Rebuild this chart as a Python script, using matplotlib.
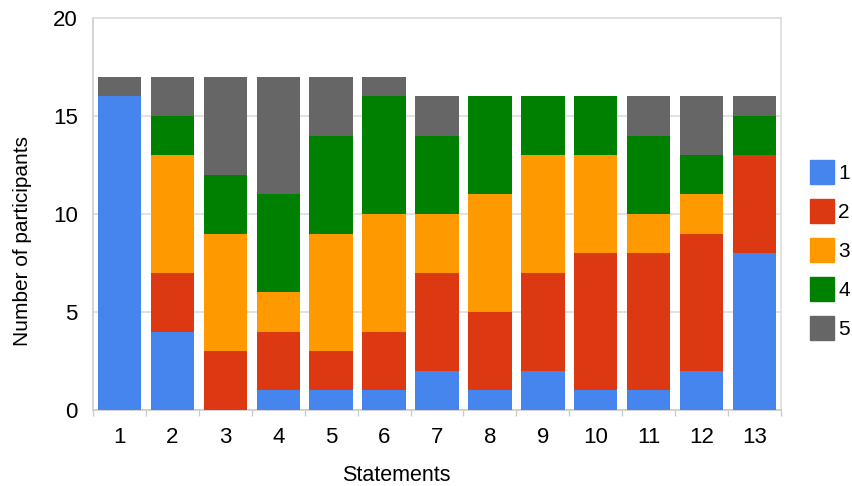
import matplotlib
matplotlib.use("Agg")
import matplotlib.pyplot as plt
from matplotlib.patches import Patch
import numpy as np

plt.rcParams['font.family'] = ['Liberation Sans', 'DejaVu Sans']

statements = [str(i) for i in range(1, 14)]
ratings = ['1', '2', '3', '4', '5']
r1 = [16, 4, 0, 1, 1, 1, 2, 1, 2, 1, 1, 2, 8]
r2 = [0, 3, 3, 3, 2, 3, 5, 4, 5, 7, 7, 7, 5]
r3 = [0, 6, 6, 2, 6, 6, 3, 6, 6, 5, 2, 2, 0]
r4 = [0, 2, 3, 5, 5, 6, 4, 5, 3, 3, 4, 2, 2]
r5 = [1, 2, 5, 6, 3, 1, 2, 0, 0, 0, 2, 3, 1]
series = [r1, r2, r3, r4, r5]
colors = ['#4684EE', '#DC3912', '#FF9900', '#008000', '#666666']

W, H = 852, 486
fig = plt.figure(figsize=(W / 100, H / 100), dpi=100)
ax = fig.add_axes([93 / W, 1 - 410 / H, (781 - 93) / W, (410 - 18) / H])

x = np.arange(len(statements))
bottom = np.zeros(len(statements))
for vals, c in zip(series, colors):
    ax.bar(x, vals, bottom=bottom, width=0.82, color=c, zorder=3)
    bottom += np.array(vals)

ax.set_xlim(-0.5, len(statements) - 0.5)
ax.set_ylim(0, 20)
ax.set_yticks([0, 5, 10, 15, 20])
ax.set_xticks(x)
ax.set_xticklabels(statements)
ax.set_xticks(np.arange(-0.5, len(statements)), minor=True)
ax.tick_params(axis='x', which='major', length=0, labelsize=16, pad=12)
ax.tick_params(axis='x', which='minor', length=4, color='#cccccc', width=1)
ax.tick_params(axis='y', length=0, labelsize=16, pad=11)
ax.grid(axis='y', color='#dddddd', linewidth=1.2, zorder=0)
for s in ax.spines.values():
    s.set_color('#dddddd')
    s.set_linewidth(1.2)
ax.spines['bottom'].set_color('#cccccc')
ax.spines['left'].set_color('#cccccc')

# axis titles
fig.text(396 / W, 1 - 481 / H, 'Statements', fontsize=15.5,
         ha='center', va='baseline')
fig.text(23 / W, 1 - 241 / H, 'Number of participants', fontsize=15,
         ha='center', va='center', rotation=90)

handles = [Patch(facecolor=c, edgecolor=c, label=r) for c, r in zip(colors, ratings)]
fig.legend(handles=handles, loc='center left', bbox_to_anchor=(810 / W, 1 - 250 / H),
           frameon=False, fontsize=15, handlelength=1.15, handleheight=1.4,
           handletextpad=0.2, labelspacing=0.71, borderpad=0, borderaxespad=0)

fig.savefig('out.png', dpi=100)
